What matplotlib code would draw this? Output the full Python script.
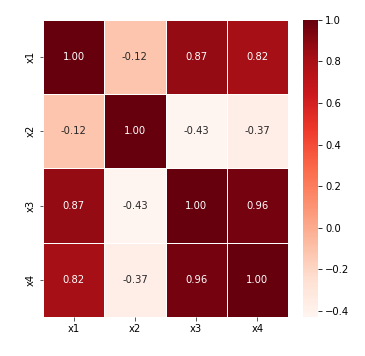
import matplotlib
matplotlib.use('Agg')
import matplotlib.pyplot as plt
import seaborn as sns
import pandas as pd

labels = ['x1', 'x2', 'x3', 'x4']
row_x1 = [1.00, -0.12, 0.87, 0.82]
row_x2 = [-0.12, 1.00, -0.43, -0.37]
row_x3 = [0.87, -0.43, 1.00, 0.96]
row_x4 = [0.82, -0.37, 0.96, 1.00]

corr = pd.DataFrame([row_x1, row_x2, row_x3, row_x4], index=labels, columns=labels)

plt.rcParams['font.family'] = 'DejaVu Sans'
plt.rcParams['font.size'] = 10

fig = plt.figure(figsize=(365/72, 356/72), dpi=72)
ax = fig.add_axes([0.118, 0.110, 0.671, 0.834])
cax = fig.add_axes([0.830, 0.110, 0.041, 0.834])

sns.heatmap(corr, annot=True, fmt='.2f', cmap='Reds', linewidths=1, linecolor='white',
            ax=ax, cbar_ax=cax)
ax.tick_params(axis='both', length=3.5, color='#333333')
cax.tick_params(length=3.5)
for spine in cax.spines.values():
    spine.set_visible(False)

plt.savefig('out.png', dpi=72)
